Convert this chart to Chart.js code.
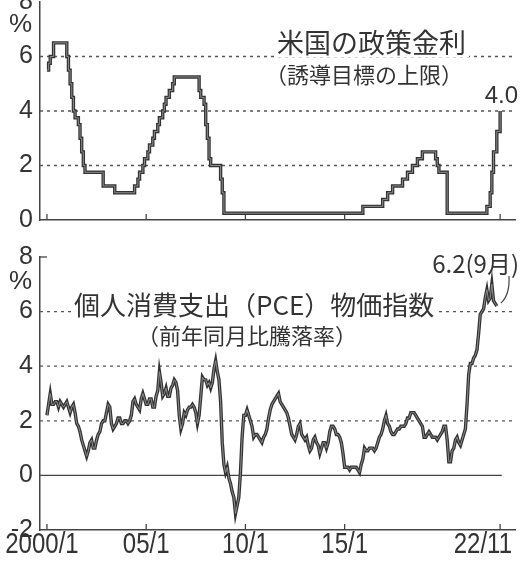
<!DOCTYPE html>
<html lang="ja">
<head>
<meta charset="utf-8">
<script src="https://cdn.jsdelivr.net/npm/chart.js@4.4.0/dist/chart.umd.min.js"></script>
<style>
  html,body{margin:0;padding:0;background:#fff;}
  body{width:520px;height:567px;position:relative;overflow:hidden;}
  canvas{position:absolute;left:0;}
  #rateChart{top:-20px;}
  #pceChart{top:235px;}
</style>
</head>
<body>
<canvas id="rateChart" width="520" height="262"></canvas>
<canvas id="pceChart" width="520" height="332"></canvas>
<script>
/* x values are months counted from 2000/1 (= 0) */
const xTickMonths = [0, 60, 120, 180, 274];
const xTickLabels = ['2000/1', '05/1', '10/1', '15/1', '22/11'];
const rateTicks = [0, 2, 4, 6, 8];
const pceTicks = [-2, 0, 2, 4, 6, 8];
const gridLevels = [2, 4, 6];

// policy rate (upper bound of target): month of change -> new level
const rateMonths = [0, 1, 2, 4, 12, 13, 14, 15, 16, 17, 19, 20, 21, 22, 23, 34, 41,
  53, 55, 56, 58, 59, 61, 62, 64, 65, 67, 68, 70, 71, 72, 74, 76, 77,
  92, 93, 95, 96, 97, 98, 99, 105, 106, 107,
  191, 203, 206, 209, 215, 218, 221, 224, 227, 235, 236, 237, 242,
  266, 268, 269, 270, 272, 274];
const rateValues = [5.5, 5.75, 6.0, 6.5, 6.0, 5.5, 5.0, 4.5, 4.0, 3.75, 3.5, 3.0, 2.5, 2.0, 1.75, 1.25, 1.0,
  1.25, 1.5, 1.75, 2.0, 2.25, 2.5, 2.75, 3.0, 3.25, 3.5, 3.75, 4.0, 4.25, 4.5, 4.75, 5.0, 5.25,
  4.75, 4.5, 4.25, 3.5, 3.0, 2.25, 2.0, 1.5, 1.0, 0.25,
  0.5, 0.75, 1.0, 1.25, 1.5, 1.75, 2.0, 2.25, 2.5, 2.25, 2.0, 1.75, 0.25,
  0.5, 1.0, 1.75, 2.5, 3.25, 4.0];

// PCE price index, % change from a year earlier, monthly 2000/1 - 2022/9
const pceValues = [
  2.2, 2.6, 3.0, 2.6, 2.6, 2.7, 2.7, 2.5, 2.7, 2.6, 2.5, 2.6,        // 2000
  2.7, 2.5, 2.3, 2.5, 2.6, 2.3, 1.9, 1.8, 1.6, 1.3, 1.1, 0.9,        // 2001
  0.7, 0.9, 1.2, 1.3, 1.0, 1.0, 1.3, 1.5, 1.6, 1.9, 2.0, 2.0,        // 2002
  2.3, 2.6, 2.5, 1.9, 1.7, 1.8, 1.9, 2.1, 2.1, 1.9, 1.9, 2.0,        // 2003
  2.0, 1.9, 2.0, 2.2, 2.7, 2.8, 2.6, 2.5, 2.4, 2.8, 3.0, 2.8,        // 2004
  2.6, 2.6, 2.8, 2.8, 2.5, 2.5, 2.9, 3.1, 3.8, 3.4, 2.9, 3.0,        // 2005
  3.2, 2.9, 2.9, 3.2, 3.3, 3.5, 3.4, 3.1, 2.2, 1.7, 1.9, 2.3,        // 2006
  2.2, 2.4, 2.5, 2.5, 2.6, 2.5, 2.3, 1.9, 2.2, 2.9, 3.6, 3.5,        // 2007
  3.5, 3.3, 3.4, 3.2, 3.4, 3.9, 4.2, 3.8, 3.5, 2.7, 1.2, 0.4,        // 2008
  0.1, 0.3, -0.1, -0.3, -0.6, -0.8, -1.4, -1.1, -0.8, 0.1, 1.4, 2.2, // 2009
  2.2, 2.4, 2.2, 2.0, 1.8, 1.4, 1.5, 1.5, 1.4, 1.3, 1.2, 1.4,        // 2010
  1.5, 1.7, 2.1, 2.4, 2.6, 2.7, 2.8, 2.9, 3.0, 2.7, 2.6, 2.5,        // 2011
  2.4, 2.3, 2.1, 1.8, 1.5, 1.4, 1.3, 1.5, 1.8, 1.9, 1.5, 1.4,        // 2012
  1.3, 1.4, 1.1, 0.9, 1.0, 1.3, 1.4, 1.2, 1.1, 0.8, 1.0, 1.2,        // 2013
  1.2, 1.0, 1.2, 1.6, 1.8, 1.8, 1.7, 1.5, 1.5, 1.4, 1.2, 0.8,        // 2014
  0.3, 0.3, 0.3, 0.2, 0.3, 0.3, 0.3, 0.3, 0.2, 0.1, 0.4, 0.6,        // 2015
  1.0, 0.9, 0.9, 1.0, 1.0, 1.0, 0.9, 1.0, 1.2, 1.4, 1.5, 1.7,        // 2016
  2.0, 2.2, 1.9, 1.8, 1.6, 1.5, 1.5, 1.6, 1.7, 1.7, 1.8, 1.8,        // 2017
  1.8, 1.9, 2.1, 2.1, 2.3, 2.3, 2.3, 2.2, 2.1, 2.0, 1.9, 1.8,        // 2018
  1.4, 1.4, 1.5, 1.6, 1.5, 1.4, 1.4, 1.4, 1.3, 1.4, 1.5, 1.6,        // 2019
  1.8, 1.8, 1.3, 0.5, 0.5, 0.9, 1.0, 1.3, 1.4, 1.2, 1.1, 1.3,        // 2020
  1.5, 1.7, 2.6, 3.7, 4.1, 4.1, 4.3, 4.4, 4.6, 5.2, 5.9, 6.0,        // 2021
  6.1, 6.5, 6.8, 6.4, 6.5, 7.0, 6.4, 6.3, 6.2                        // 2022
];

const INK = '#333';
const JP = '"Noto Sans CJK JP", "Noto Sans CJK SC", sans-serif';
const NUM = '"Liberation Sans", Arial, sans-serif';

// dotted levels, axis tick marks, labels and captions
const decor = {
  id: 'decor',
  beforeDatasetsDraw(chart, args, o){
    const { ctx, chartArea: a, scales: { x, y } } = chart;
    const py = v => v - o.top; // page y -> canvas y
    ctx.save();
    ctx.strokeStyle = '#555';
    ctx.lineWidth = 1.3;
    ctx.setLineDash([3, 4]);
    gridLevels.forEach(v => {
      const p = y.getPixelForValue(v);
      ctx.beginPath(); ctx.moveTo(a.left, p); ctx.lineTo(a.right, p); ctx.stroke();
    });
    ctx.setLineDash([]);
    ctx.strokeStyle = '#444';
    if(o.zeroLine){
      const p = y.getPixelForValue(0);
      ctx.beginPath(); ctx.moveTo(a.left, p); ctx.lineTo(x.getPixelForValue(o.zeroLine), p); ctx.stroke();
      // short tick at the top of the axis
      const t = y.getPixelForValue(y.max);
      ctx.beginPath(); ctx.moveTo(a.left, t); ctx.lineTo(a.left + 7, t); ctx.stroke();
    }
    xTickMonths.forEach(m => {
      const p = x.getPixelForValue(m);
      ctx.beginPath(); ctx.moveTo(p, a.bottom); ctx.lineTo(p, a.bottom - 6); ctx.stroke();
    });
    ctx.fillStyle = INK;
    ctx.textBaseline = 'middle';
    if(o.xLabels){
      // condensed look of the newspaper numerals
      ctx.font = '30px ' + NUM;
      xTickLabels.forEach((s, i) => {
        const p = x.getPixelForValue(xTickMonths[i]);
        const last = i === xTickLabels.length - 1;
        ctx.save();
        ctx.translate(last ? 512 : p - (i === 0 ? 5 : 0), py(545));
        ctx.scale(0.8, 1);
        ctx.textAlign = last ? 'right' : 'center';
        ctx.fillText(s, 0, 0);
        ctx.restore();
      });
    }
    ctx.textAlign = 'left';
    ctx.font = '26px ' + NUM;
    ctx.fillText('%', 9, py(o.pctY));
    (o.texts || []).forEach(t => {
      ctx.font = t.font;
      const w = ctx.measureText(t.text).width;
      const lx = t.right ? t.x - w : t.x;
      if(t.bg){
        ctx.fillStyle = '#fff';
        ctx.fillRect(lx - 3, py(t.y) - t.h / 2, w + 6, t.h);
      }
      ctx.fillStyle = INK;
      ctx.fillText(t.text, lx, py(t.y));
    });
    if(o.leader){
      const tx = x.getPixelForValue(pceValues.length - 1) + 4;
      const ty = y.getPixelForValue(pceValues[pceValues.length - 1]) - 3;
      ctx.strokeStyle = '#444';
      ctx.lineWidth = 1.2;
      ctx.beginPath();
      ctx.moveTo(509, py(276));
      ctx.quadraticCurveTo(510, ty - 8, tx, ty);
      ctx.stroke();
    }
    ctx.restore();
  }
};

function lineSets(data, stepped){
  return [
    { data, borderColor: '#8c8c8c', borderWidth: 1, pointRadius: 0, stepped, tension: 0, order: 0 },
    { data, borderColor: '#333', borderWidth: 3.4, pointRadius: 0, stepped, tension: 0, order: 1 }
  ];
}

function baseOptions(yMin, yMax, yTicks, xAxisH, deco){
  return {
    responsive: false,
    animation: false,
    layout: { padding: { top: 20, right: 5, left: 0, bottom: 0 } },
    plugins: { legend: { display: false }, tooltip: { enabled: false }, decor: deco },
    scales: {
      x: {
        type: 'linear', min: -4.2, max: 283,
        ticks: { display: false },
        grid: { display: false, drawTicks: false },
        border: { display: true, color: '#444', width: 1.5 },
        afterFit: s => { s.height = xAxisH; }
      },
      y: {
        min: yMin, max: yMax,
        afterBuildTicks: s => { s.ticks = yTicks.map(v => ({ value: v })); },
        ticks: { color: INK, font: { family: NUM, size: 25 }, padding: 7, autoSkip: false },
        grid: { display: false, drawTicks: false },
        border: { display: true, color: '#444', width: 1.5 },
        afterFit: s => { s.width = 40; }
      }
    }
  };
}

const rateData = rateMonths.map((m, i) => ({ x: m, y: rateValues[i] }));
new Chart(document.getElementById('rateChart'), {
  type: 'line',
  data: { datasets: lineSets(rateData, 'before') },
  options: baseOptions(0, 8, rateTicks, 22, {
    top: -20, pctY: 25,
    texts: [
      { text: '米国の政策金利', x: 277, y: 43, font: '27px ' + JP, bg: true, h: 28 },
      { text: '（誘導目標の上限）', x: 265, y: 75, font: '22px ' + JP, bg: true, h: 24 },
      { text: '4.0', x: 518, y: 96, right: true, font: '24px ' + NUM }
    ]
  }),
  plugins: [decor]
});

const pceData = pceValues.map((v, i) => ({ x: i, y: v }));
new Chart(document.getElementById('pceChart'), {
  type: 'line',
  data: { datasets: lineSets(pceData, false) },
  options: baseOptions(-2, 8, pceTicks, 37, {
    top: 235, pctY: 282, zeroLine: 275, xLabels: true, leader: true,
    texts: [
      { text: '個人消費支出（PCE）物価指数', x: 74, y: 305, font: '26px ' + JP, bg: true, h: 28 },
      { text: '（前年同月比騰落率）', x: 137, y: 336, font: '22px ' + JP, bg: true, h: 24 },
      { text: '6.2(9月)', x: 519, y: 264, right: true, font: '24px ' + JP }
    ]
  }),
  plugins: [decor]
});
</script>
</body>
</html>
